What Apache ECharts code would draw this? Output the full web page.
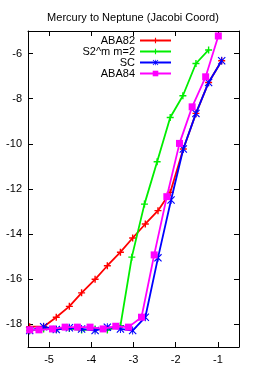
<!DOCTYPE html>
<html><head><meta charset="utf-8">
<script src="https://cdn.jsdelivr.net/npm/echarts@6/dist/echarts.min.js"></script>
<style>html,body{margin:0;padding:0;background:#fff}#c{width:266px;height:369px}</style>
</head><body><div id="c"></div>
<script>
const seriesNames = ['ABA82', 'S2^m m=2', 'SC', 'ABA84'];
const aba82X = [-5.46, -5.13, -4.83, -4.52, -4.23, -3.91, -3.62, -3.31, -3.02, -2.72, -2.42, -2.13, -1.82, -1.52, -1.22, -0.91];
const aba82Y = [-18.1, -18.1, -17.68, -17.2, -16.6, -16.0, -15.4, -14.8, -14.17, -13.55, -12.96, -12.15, -10.23, -8.65, -7.28, -6.32];
const s2mX = [-5.46, -5.13, -4.83, -4.52, -4.23, -3.91, -3.62, -3.31, -3.04, -2.74, -2.44, -2.13, -1.83, -1.52, -1.22];
const s2mY = [-18.27, -18.2, -18.22, -18.18, -18.25, -18.2, -18.25, -18.06, -15.02, -12.67, -10.79, -8.83, -7.87, -6.44, -5.84];
const scX = [-5.46, -5.13, -4.83, -4.52, -4.23, -3.91, -3.62, -3.31, -3.02, -2.72, -2.42, -2.11, -1.82, -1.52, -1.22, -0.91];
const scY = [-18.27, -18.1, -18.23, -18.15, -18.2, -18.27, -18.12, -18.2, -18.27, -17.68, -15.05, -12.49, -10.23, -8.65, -7.28, -6.32];
const aba84X = [-5.46, -5.24, -4.92, -4.62, -4.33, -4.03, -3.72, -3.42, -3.12, -2.81, -2.51, -2.21, -1.91, -1.61, -1.29, -0.99];
const aba84Y = [-18.24, -18.24, -18.2, -18.12, -18.12, -18.12, -18.2, -18.08, -18.12, -17.68, -14.92, -12.34, -9.98, -8.36, -7.03, -5.22];
const xTicks = [-5, -4, -3, -2, -1];
const yTicks = [-18, -16, -14, -12, -10, -8, -6];

const colors = ['#ff0000', '#00ee00', '#0000ff', '#ff00ff'];
const plusPath = 'path://M4,0L6,0L6,4L10,4L10,6L6,6L6,10L4,10L4,6L0,6L0,4L4,4Z';
const starPath = 'path://M0,1L1,0L5,4L9,0L10,1L6,5L10,9L9,10L5,6L1,10L0,9L4,5Z M4.4,0L5.6,0L5.6,10L4.4,10Z';
const symbols = [plusPath, plusPath, starPath, 'rect'];
const symSizes = [7, 7, 8, 7];
const xs = [aba82X, s2mX, scX, aba84X];
const ys = [aba82Y, s2mY, scY, aba84Y];

const font = 'Liberation Sans, Arial, sans-serif';
const chart = echarts.init(document.getElementById('c'), null, {renderer: 'canvas'});
const axisCommon = {
  axisLine: {show: true, onZero: false, lineStyle: {color: '#000', width: 1}},
  axisTick: {show: true, inside: true, length: 5, lineStyle: {color: '#000'}},
  splitLine: {show: false},
};
chart.setOption({
  animation: false,
  title: {text: 'Mercury to Neptune (Jacobi Coord)', left: 'center', top: 7,
    textStyle: {fontFamily: font, fontSize: 11, fontWeight: 'normal', color: '#000'}},
  legend: seriesNames.map((n, i) => ({
    data: [n], right: 94, top: 35 + i * 11, align: 'right', orient: 'vertical',
    itemWidth: 31, itemHeight: 7, itemGap: 0, padding: 0,
    textStyle: {fontFamily: font, fontSize: 11, color: '#000', padding: [0, 0, 0, 0]},
  })),
  grid: {left: 28, right: 27, top: 31, bottom: 22, containLabel: false},
  xAxis: [
    Object.assign({type: 'value', min: -5.5, max: -0.5, interval: 1, position: 'bottom',
      axisLabel: {show: true, color: '#000', fontFamily: font, fontSize: 11, margin: 7,
        customValues: xTicks},
      }, axisCommon, {axisTick: Object.assign({}, axisCommon.axisTick, {customValues: xTicks})}),
    Object.assign({type: 'value', min: -5.5, max: -0.5, position: 'top',
      axisLabel: {show: false}}, axisCommon, {axisTick: Object.assign({}, axisCommon.axisTick, {customValues: xTicks})}),
  ],
  yAxis: [
    Object.assign({type: 'value', min: -19, max: -5, interval: 1, position: 'left',
      axisLabel: {show: true, color: '#000', fontFamily: font, fontSize: 11, margin: 6,
        customValues: yTicks}}, axisCommon, {axisTick: Object.assign({}, axisCommon.axisTick, {customValues: yTicks})}),
    Object.assign({type: 'value', min: -19, max: -5, position: 'right',
      axisLabel: {show: false}}, axisCommon, {axisTick: Object.assign({}, axisCommon.axisTick, {customValues: yTicks})}),
  ],
  series: seriesNames.map((n, i) => ({
    name: n, type: 'line', xAxisIndex: 0, yAxisIndex: 0,
    data: xs[i].map((x, j) => [x, ys[i][j]]),
    symbol: symbols[i], symbolSize: symSizes[i], showAllSymbol: true,
    lineStyle: {color: colors[i], width: 1.8},
    itemStyle: {color: colors[i]},
    z: 2 + i,
  })),
});
</script></body></html>
